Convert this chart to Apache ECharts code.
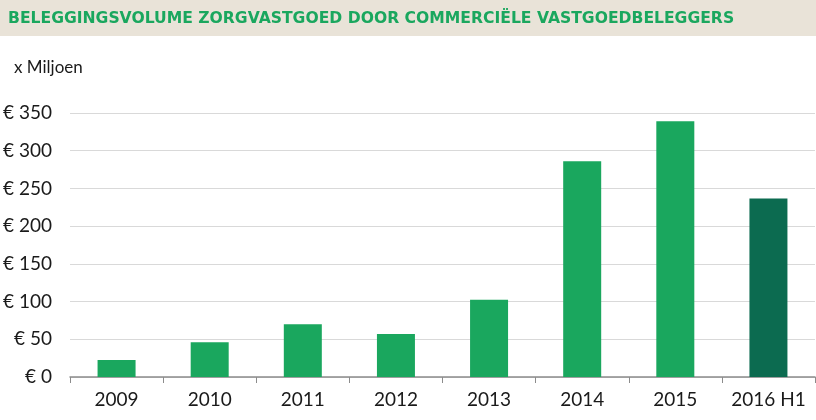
<!DOCTYPE html>
<html><head><meta charset="utf-8">
<script src="https://cdn.jsdelivr.net/npm/echarts@6/dist/echarts.min.js"></script>
<style>html,body{margin:0;padding:0;background:#fff}#c{width:816px;height:420px}</style>
</head><body><div id="c"></div>
<script>
const categories = ['2009','2010','2011','2012','2013','2014','2015','2016 H1'];
const values = [22.5, 46, 70, 57, 102.5, 286, 339, 236.5];
const barColors = ['#1aa75e','#1aa75e','#1aa75e','#1aa75e','#1aa75e','#1aa75e','#1aa75e','#0c6b50'];
const titleText = 'BELEGGINGSVOLUME ZORGVASTGOED DOOR COMMERCIËLE VASTGOEDBELEGGERS';
const unitText = 'x Miljoen';

const chart = echarts.init(document.getElementById('c'), null, {renderer:'canvas'});
chart.setOption({
  animation: false,
  graphic: [
    {type:'rect', left:0, top:0, shape:{width:816, height:36}, style:{fill:'#e9e3d8'}, z:0},
    {type:'text', left:8, top:11, style:{text:titleText, font:'bold 15.6px "DejaVu Sans", sans-serif', fill:'#1aa75e'}, z:1},
    {type:'text', left:14, top:59, style:{text:unitText, font:'17px Lato, sans-serif', fill:'#1a1a1a'}}
  ],
  grid: {left:70, right:1, top:113, bottom:43, containLabel:false},
  xAxis: {
    type:'category', data:categories,
    axisLine:{lineStyle:{color:'#8c8c8c', width:1.5}},
    axisTick:{show:true, length:6, lineStyle:{color:'#8c8c8c'}},
    axisLabel:{color:'#1a1a1a', fontSize:19, fontFamily:'Lato, sans-serif', margin:13, interval:0}
  },
  yAxis: {
    type:'value', min:0, max:350, interval:50,
    axisLine:{show:false}, axisTick:{show:false},
    splitLine:{lineStyle:{color:'#d9d9d9', width:1.2}},
    axisLabel:{color:'#1a1a1a', fontSize:19, fontFamily:'Lato, sans-serif', margin:18, formatter: v => '€ ' + v}
  },
  series: [{
    type:'bar', barWidth:38,
    data: values.map((v,i)=>({value:v, itemStyle:{color:barColors[i]}}))
  }]
});
</script></body></html>
